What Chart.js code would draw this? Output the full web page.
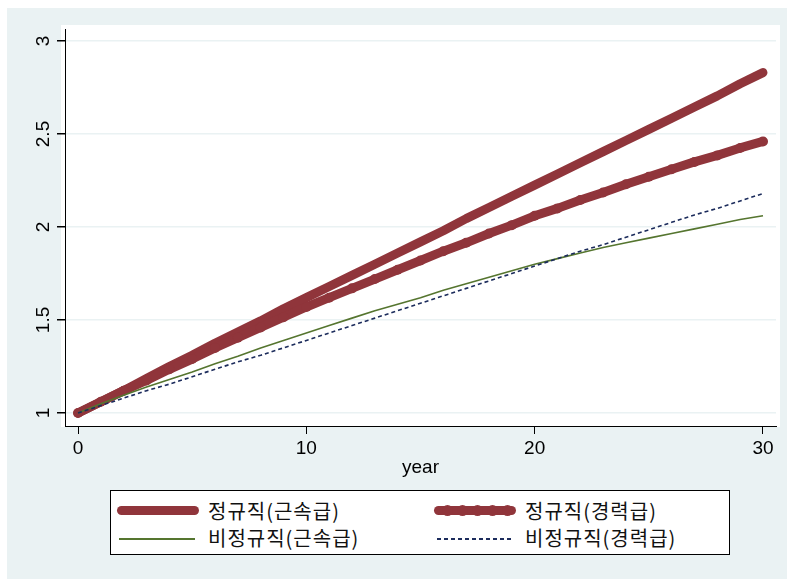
<!DOCTYPE html>
<html>
<head>
<meta charset="utf-8">
<script src="https://cdn.jsdelivr.net/npm/chart.js"></script>
<style>
  body { margin: 0; background: #fff; width: 787px; height: 579px; overflow: hidden; }
  #wrap { position: absolute; left: 7px; top: 8px; width: 780px; height: 571px; background: #eaf2f3; }
  #wrap canvas { position: absolute; left: 0; top: 0; }
  #legend { position: absolute; left: 110px; top: 490px; width: 618px; height: 63px; background: #fff; border: 1px solid #000;
            font-family: "Noto Sans CJK KR", sans-serif; font-size: 20px; letter-spacing: 1px; color: #111; }
  .item { position: absolute; height: 26px; line-height: 26px; }
  .sym { position: absolute; top: 50%; }
  .txt { position: absolute; white-space: nowrap; top: 0; }
</style>
</head>
<body>
<div id="wrap"><canvas id="c" width="780" height="571"></canvas></div>
<div id="legend"></div>
<script>
// data
const years = [0,1,2,3,4,5,6,7,8,9,10,11,12,13,14,15,16,17,18,19,20,21,22,23,24,25,26,27,28,29,30];
const regTenure = [1.00,1.06,1.12,1.185,1.25,1.31,1.375,1.435,1.495,1.56,1.62,1.68,1.74,1.80,1.86,1.92,1.98,2.045,2.105,2.165,2.225,2.285,2.345,2.405,2.465,2.525,2.585,2.645,2.705,2.77,2.83];
const regCareer = [1.00,1.06,1.12,1.175,1.235,1.29,1.35,1.405,1.46,1.515,1.57,1.62,1.67,1.72,1.77,1.82,1.87,1.915,1.965,2.01,2.06,2.10,2.145,2.185,2.23,2.27,2.31,2.35,2.385,2.425,2.46];
const nonregTenure = [1.00,1.05,1.095,1.14,1.18,1.22,1.265,1.305,1.35,1.39,1.43,1.47,1.51,1.55,1.585,1.62,1.66,1.695,1.73,1.765,1.80,1.83,1.86,1.89,1.915,1.94,1.965,1.99,2.015,2.04,2.06];
const nonregCareer = [1.00,1.04,1.08,1.12,1.155,1.195,1.235,1.275,1.31,1.35,1.39,1.43,1.47,1.51,1.55,1.59,1.63,1.67,1.71,1.75,1.79,1.83,1.87,1.905,1.945,1.985,2.025,2.065,2.10,2.14,2.18];
const seriesLabels = ["정규직(근속급)", "정규직(경력급)", "비정규직(근속급)", "비정규직(경력급)"];
const xTicks = [0, 10, 20, 30];
const yTicks = [1, 1.5, 2, 2.5, 3];
const yTickLabels = ["1", "1.5", "2", "2.5", "3"];
const xTitle = "year";

const MAROON = "#90353b", GREEN = "#55752f", NAVY = "#1c2c5c";
const FONT = "'Liberation Sans', Arial, sans-serif";

function pts(ys) { return years.map((x, i) => ({ x: x, y: ys[i] })); }

// white plot region behind the chart area
const plotBg = {
  id: "plotBg",
  beforeDraw(chart) {
    const a = chart.chartArea, ctx = chart.ctx;
    ctx.save();
    ctx.fillStyle = "#fff";
    ctx.fillRect(a.left - 4, a.top - 4, a.right - a.left + 8, a.bottom - a.top + 5);
    ctx.restore();
  }
};

// rotated y tick labels (Stata style)
const yLabels = {
  id: "yLabels",
  afterDraw(chart) {
    const s = chart.scales.y, ctx = chart.ctx;
    ctx.save();
    ctx.fillStyle = "#000";
    ctx.font = "19px " + FONT;
    ctx.textAlign = "center";
    ctx.textBaseline = "middle";
    yTicks.forEach((v, i) => {
      ctx.save();
      ctx.translate(s.right - 21, s.getPixelForValue(v));
      ctx.rotate(-Math.PI / 2);
      ctx.fillText(yTickLabels[i], 0, 0);
      ctx.restore();
    });
    ctx.restore();
  }
};

new Chart(document.getElementById("c"), {
  type: "line",
  data: {
    datasets: [
      { label: seriesLabels[0], data: pts(regTenure), borderColor: MAROON, borderWidth: 9,
        borderCapStyle: "round", borderJoinStyle: "round", pointRadius: 0, order: 3 },
      { label: seriesLabels[1], data: pts(regCareer), borderColor: MAROON, borderWidth: 9,
        borderCapStyle: "round", borderJoinStyle: "round", pointRadius: 5, pointBorderWidth: 0,
        pointBackgroundColor: MAROON, order: 2 },
      { label: seriesLabels[2], data: pts(nonregTenure), borderColor: GREEN, borderWidth: 1.6,
        pointRadius: 0, order: 1 },
      { label: seriesLabels[3], data: pts(nonregCareer), borderColor: NAVY, borderWidth: 1.6,
        borderDash: [4, 3], pointRadius: 0, order: 0 }
    ]
  },
  options: {
    responsive: false,
    animation: false,
    events: [],
    layout: { padding: { left: 0, top: 21, right: 11, bottom: 83 } },
    plugins: { legend: { display: false }, tooltip: { enabled: false } },
    scales: {
      x: {
        type: "linear", min: -0.57, max: 30.57,
        afterBuildTicks: s => { s.ticks = xTicks.map(v => ({ value: v })); },
        afterFit: s => { s.height = 70; },
        border: { display: true, color: "#000", width: 1 },
        grid: { drawOnChartArea: false, drawTicks: true, tickLength: 8, tickColor: "#000" },
        ticks: { color: "#000", font: { family: FONT, size: 19 }, padding: 3, maxRotation: 0 },
        title: { display: true, text: xTitle, color: "#000", font: { family: FONT, size: 19 },
                 padding: { top: 0, bottom: 17 } }
      },
      y: {
        type: "linear", min: 0.93, max: 3.0645,
        afterBuildTicks: s => { s.ticks = yTicks.map(v => ({ value: v })); },
        afterFit: s => { s.width = 58; },
        border: { display: true, color: "#000", width: 1 },
        grid: { color: "#eaf2f3", lineWidth: 1.5, drawTicks: true, tickLength: 8, tickColor: "#000" },
        ticks: { display: false }
      }
    }
  },
  plugins: [plotBg, yLabels]
});

// legend box (2 columns, Stata style)
const legend = document.getElementById("legend");
const layout = [
  { col: 0, row: 0, kind: "thick" },
  { col: 1, row: 0, kind: "beads" },
  { col: 0, row: 1, kind: "green" },
  { col: 1, row: 1, kind: "navy" }
];
layout.forEach((it, i) => {
  const d = document.createElement("div");
  d.className = "item";
  d.style.left = (it.col ? 322 : 5) + "px";
  d.style.top = (it.row ? 34 : 7) + "px";
  d.style.width = "290px";
  const sym = document.createElement("div");
  sym.className = "sym";
  if (it.kind === "thick" || it.kind === "beads") {
    sym.style.left = "1px"; sym.style.width = "82px"; sym.style.height = "9px";
    sym.style.marginTop = "-5px"; sym.style.background = MAROON; sym.style.borderRadius = "5px";
    if (it.kind === "beads") {
      for (let k = 0; k < 5; k++) {
        const b = document.createElement("div");
        b.style.cssText = "position:absolute;top:-1px;width:11px;height:11px;border-radius:6px;background:" + MAROON +
          ";left:" + (8 + k * 15) + "px";
        sym.appendChild(b);
      }
    }
  } else if (it.kind === "green") {
    sym.style.left = "3px"; sym.style.width = "76px"; sym.style.borderTop = "2px solid " + GREEN;
  } else {
    sym.style.left = "4px"; sym.style.width = "74px"; sym.style.height = "2px";
    sym.style.background = "repeating-linear-gradient(90deg," + NAVY + " 0 4px, transparent 4px 7px)";
  }
  d.appendChild(sym);
  const t = document.createElement("div");
  t.className = "txt";
  t.style.left = "92px";
  t.textContent = seriesLabels[i];
  d.appendChild(t);
  legend.appendChild(d);
});
</script>
</body>
</html>
